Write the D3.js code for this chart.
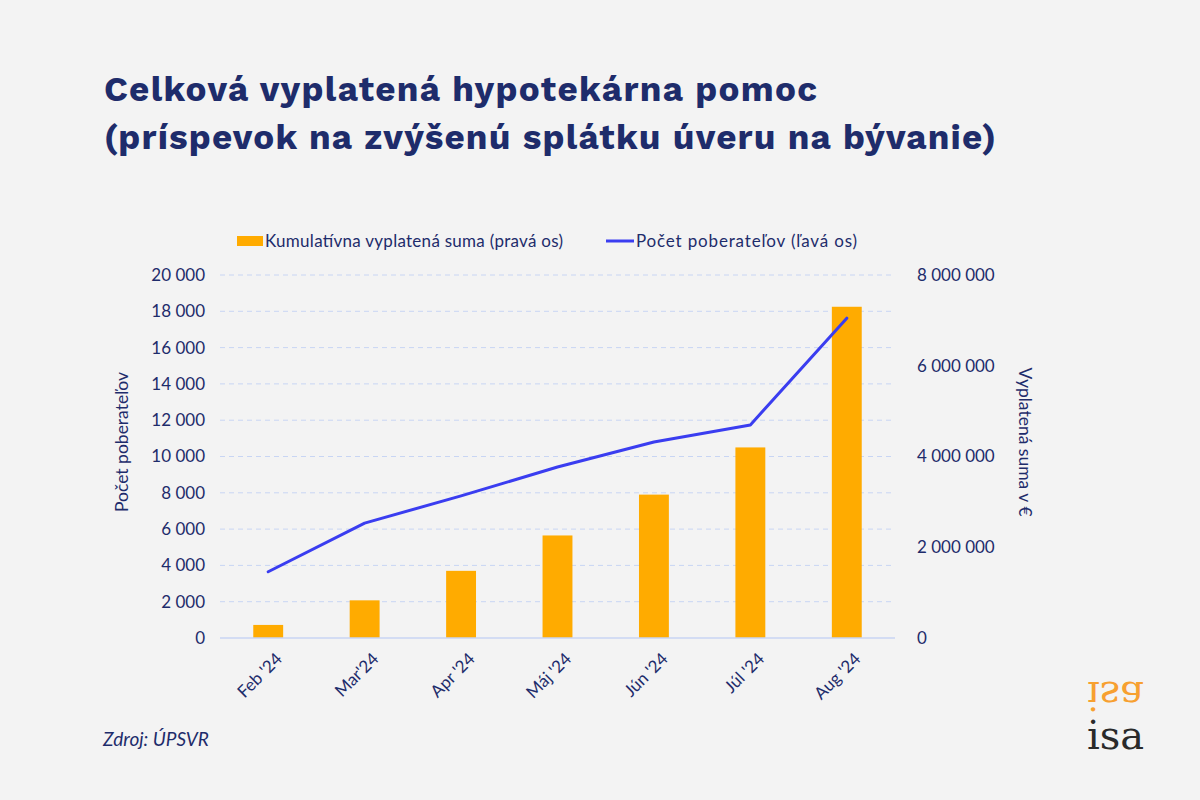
<!DOCTYPE html>
<html><head><meta charset="utf-8">
<script src="https://cdn.jsdelivr.net/npm/d3@7"></script>
<style>
html,body{margin:0;padding:0;background:#f3f3f3;}
svg{display:block;}
</style></head>
<body>
<svg id="chart" width="1200" height="800"></svg>
<script>
const categories = ["Feb '24","Mar'24","Apr '24","Máj '24","Jún '24","Júl '24","Aug '24"];
const cumulativeSum = [288000, 830000, 1480000, 2260000, 3160000, 4200000, 7300000];
const recipients = [3650, 6330, 7830, 9420, 10800, 11740, 17620];
const leftTicks = [0,2000,4000,6000,8000,10000,12000,14000,16000,18000,20000];
const rightTicks = [0,2000000,4000000,6000000,8000000];
const titleLines = ["Celková vyplatená hypotekárna pomoc","(príspevok na zvýšenú splátku úveru na bývanie)"];
const legendLabels = ["Kumulatívna vyplatená suma (pravá os)","Počet poberateľov (ľavá os)"];

const navy = "#1e2c6b";
const orange = "#ffab00";
const blue = "#3a3df0";
const grid = "#c8d5f3";
const bodyFont = "Lato, 'Open Sans', sans-serif";

const svg = d3.select("#chart");
svg.append("rect").attr("width",1200).attr("height",800).attr("fill","#f3f3f3");

const L = 220, R = 895, T = 275, B = 638;

const x = d3.scaleBand().domain(categories).range([L,R]).paddingInner(0.69).paddingOuter(0.345);
const yL = d3.scaleLinear().domain([0,20000]).range([B,T]);
const yR = d3.scaleLinear().domain([0,8000000]).range([B,T]);
const fmt = v => d3.format(",")(v).replace(/,/g," ");

// title
const titleWidths = [713, 892];
svg.append("g").selectAll("text").data(titleLines).join("text")
  .attr("x",104).attr("y",(d,i)=>101+i*48)
  .attr("font-family","'Work Sans', Roboto, Inter, sans-serif")
  .attr("font-weight",700).attr("font-size",35).attr("fill",navy)
  .attr("textLength",(d,i)=>titleWidths[i]).attr("lengthAdjust","spacing")
  .text(d=>d);

// gridlines
svg.append("g").selectAll("line").data(leftTicks.filter(d=>d>0)).join("line")
  .attr("x1",L).attr("x2",R).attr("y1",d=>yL(d)).attr("y2",d=>yL(d))
  .attr("stroke",grid).attr("stroke-width",1).attr("stroke-dasharray","5,4");

// bars
svg.append("g").selectAll("rect").data(categories).join("rect")
  .attr("x",d=>x(d)).attr("width",x.bandwidth())
  .attr("y",(d,i)=>yR(cumulativeSum[i])).attr("height",(d,i)=>B-yR(cumulativeSum[i]))
  .attr("fill",orange);

// baseline
svg.append("line").attr("x1",L).attr("x2",R).attr("y1",B).attr("y2",B)
  .attr("stroke",grid).attr("stroke-width",1.3);

// line
const line = d3.line().x((d,i)=>x(categories[i])+x.bandwidth()/2).y(d=>yL(d));
svg.append("path").datum(recipients).attr("d",line)
  .attr("fill","none").attr("stroke",blue).attr("stroke-width",3).attr("stroke-linecap","round").attr("stroke-linejoin","round");

// left axis
const axL = d3.axisLeft(yL).tickValues(leftTicks).tickFormat(fmt).tickSize(0).tickPadding(15);
const gL = svg.append("g").attr("transform",`translate(${L},0)`).call(axL);
gL.select(".domain").remove();
gL.selectAll("text").attr("font-family",bodyFont).attr("font-size",17).attr("fill",navy);

// right axis
const axR = d3.axisRight(yR).tickValues(rightTicks).tickFormat(fmt).tickSize(0).tickPadding(22);
const gR = svg.append("g").attr("transform",`translate(${R},0)`).call(axR);
gR.select(".domain").remove();
gR.selectAll("text").attr("font-family",bodyFont).attr("font-size",17).attr("fill",navy);

// x axis labels
const axX = d3.axisBottom(x).tickSize(0).tickPadding(0);
const gX = svg.append("g").attr("transform",`translate(0,${B})`).call(axX);
gX.select(".domain").remove();
gX.selectAll("text")
  .attr("font-family",bodyFont).attr("font-size",17).attr("fill",navy)
  .attr("text-anchor","end").attr("dy",0).attr("y",0)
  .attr("transform","translate(15,22) rotate(-45)");

// axis titles
svg.append("text").attr("transform","translate(128,442) rotate(-90)")
  .attr("text-anchor","middle").attr("font-family",bodyFont).attr("font-size",17.5).attr("fill",navy)
  .text("Počet poberateľov");
svg.append("text").attr("transform","translate(1019,442) rotate(90)")
  .attr("text-anchor","middle").attr("font-family",bodyFont).attr("font-size",17.5).attr("fill",navy)
  .text("Vyplatená suma v €");

// legend
const lg = svg.append("g");
lg.append("rect").attr("x",237).attr("y",236).attr("width",26).attr("height",10).attr("fill",orange);
lg.append("text").attr("x",265).attr("y",247).attr("font-family",bodyFont).attr("font-size",17).attr("fill",navy)
  .attr("textLength",298).attr("lengthAdjust","spacing").text(legendLabels[0]);
lg.append("line").attr("x1",606).attr("x2",634).attr("y1",241).attr("y2",241).attr("stroke",blue).attr("stroke-width",3);
lg.append("text").attr("x",636).attr("y",247).attr("font-family",bodyFont).attr("font-size",17).attr("fill",navy)
  .attr("textLength",221).attr("lengthAdjust","spacing").text(legendLabels[1]);

// source
svg.append("text").attr("x",103).attr("y",746).attr("font-family",bodyFont).attr("font-style","italic")
  .attr("font-size",19).attr("fill",navy).text("Zdroj: ÚPSVR");

// logo
svg.append("text").attr("x",1087).attr("y",749).attr("font-family","'DejaVu Serif', 'Liberation Serif', serif")
  .attr("font-size",40).attr("fill","#2a2a2a").text("isa");
svg.append("text").attr("transform","translate(1087,682) scale(1,-1)").attr("font-family","'DejaVu Serif', 'Liberation Serif', serif")
  .attr("font-size",40).attr("fill","#f7a030").text("isa");
</script>
</body></html>
